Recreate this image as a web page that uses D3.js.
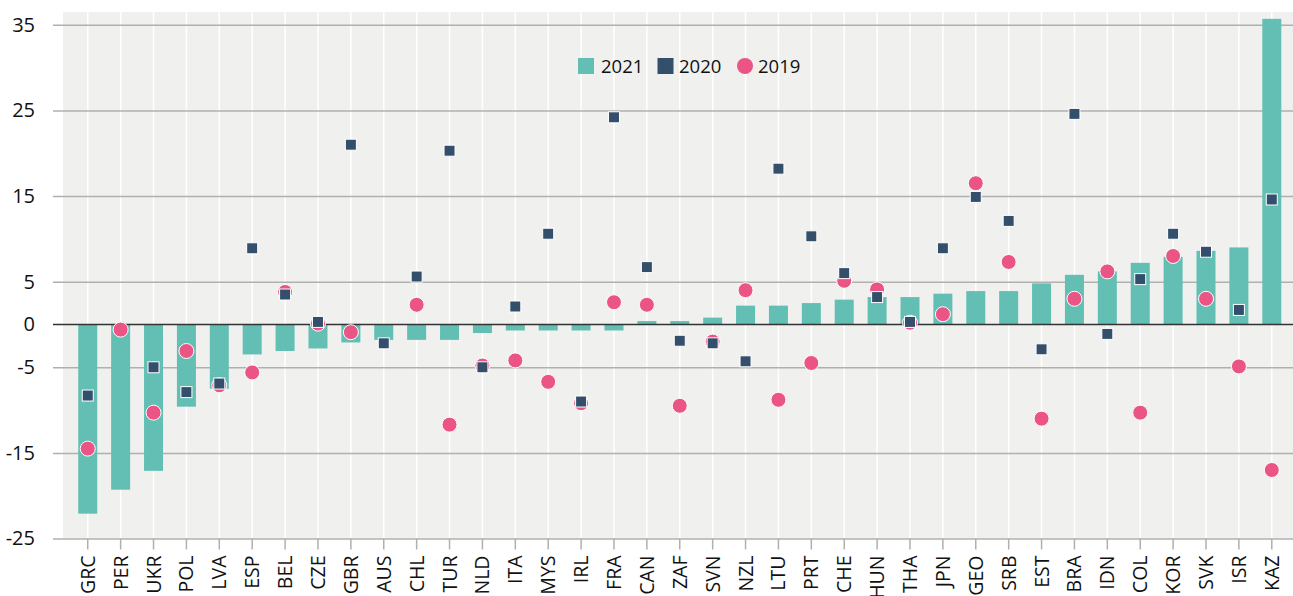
<!DOCTYPE html>
<html>
<head>
<meta charset="utf-8">
<script src="https://cdn.jsdelivr.net/npm/d3@7"></script>
<style>
  body { margin: 0; background: #fff; font-family: "Open Sans", sans-serif; }
</style>
</head>
<body>
<div id="container"></div>
<script>
// countries, sorted by 2021 value
let countries = ["GRC","PER","UKR","POL","LVA","ESP","BEL","CZE","GBR","AUS","CHL","TUR","NLD","ITA","MYS","IRL","FRA","CAN","ZAF","SVN","NZL","LTU","PRT","CHE","HUN","THA","JPN","GEO","SRB","EST","BRA","IDN","COL","KOR","SVK","ISR","KAZ"];
let v2021 = [-22.1,-19.3,-17.1,-9.6,-7.5,-3.5,-3.1,-2.8,-2.1,-1.8,-1.8,-1.8,-1.0,-0.7,-0.7,-0.7,-0.7,0.4,0.4,0.8,2.2,2.2,2.5,2.9,3.2,3.2,3.6,3.9,3.9,4.8,5.8,6.2,7.2,7.9,8.6,9.0,35.7];
let v2020 = [-8.3,null,-5.0,-7.9,-6.9,8.9,3.5,0.3,21.0,-2.2,5.6,20.3,-5.0,2.1,10.6,-9.0,24.2,6.7,-1.9,-2.2,-4.3,18.2,10.3,6.0,3.2,0.3,8.9,14.9,12.1,-2.9,24.6,-1.1,5.3,10.6,8.5,1.7,14.6];
let v2019 = [-14.5,-0.6,-10.3,-3.1,-7.1,-5.6,3.8,0.1,-0.9,null,2.3,-11.7,-4.8,-4.2,-6.7,-9.2,2.6,2.3,-9.5,-2.0,4.0,-8.8,-4.5,5.1,4.1,0.2,1.2,16.5,7.3,-11.0,3.0,6.2,-10.3,8.0,3.0,-4.9,-17.0];
let yTicks = [35, 25, 15, 5, 0, -5, -15, -25];

let width = 1293, height = 596;
let mLeft = 63, mRight = 1293, mTop = 12, mBottom = 538.5;

let col2021 = "#63bfb4", col2020 = "#344f6b", col2019 = "#ea5586";

let svg = d3.select("#container").append("svg")
  .attr("width", width).attr("height", height);

let x = d3.scaleBand().domain(countries).range([71.3, 71.3 + 37 * 32.89]);
let y = d3.scaleLinear().domain([-25, 36.5]).range([mBottom, mTop]);
let cx = (d) => x(d) + x.bandwidth() / 2;

// 背景
svg.append("rect")
  .attr("x", mLeft).attr("y", mTop)
  .attr("width", mRight - mLeft).attr("height", mBottom - mTop)
  .attr("fill", "#f0f0ee");

// 竖直网格
svg.append("g").selectAll("line").data(countries).join("line")
  .attr("x1", cx).attr("x2", cx)
  .attr("y1", mTop).attr("y2", mBottom)
  .attr("stroke", "#ffffff").attr("stroke-width", 1.5);

// y 轴
let yAxis = d3.axisLeft(y).tickValues(yTicks).tickSize(mRight - 53)
  .tickFormat((d) => String(d));
let gy = svg.append("g").attr("transform", `translate(${mRight},0)`).call(yAxis);
gy.select(".domain").remove();
gy.selectAll(".tick line")
  .attr("stroke", "#b0b0b0")
  .attr("stroke-width", 1.5);
gy.selectAll(".tick text")
  .attr("x", -(mRight - 35))
  .attr("font-family", "Open Sans, sans-serif")
  .attr("font-size", 20).attr("fill", "#111");
// zero line drawn above bars
gy.selectAll(".tick").filter((d) => d === 0).select("line").remove();

// bars 2021
let bw = 19;
svg.append("g").selectAll("rect").data(countries).join("rect")
  .attr("x", (d) => cx(d) - bw / 2)
  .attr("width", bw)
  .attr("y", (d, i) => y(Math.max(0, v2021[i])))
  .attr("height", (d, i) => Math.abs(y(v2021[i]) - y(0)))
  .attr("fill", col2021);

// zero line
svg.append("line")
  .attr("x1", 53).attr("x2", mRight)
  .attr("y1", y(0)).attr("y2", y(0))
  .attr("stroke", "#333").attr("stroke-width", 1.3);

// x 轴
let xAxis = d3.axisBottom(x).tickSize(11);
let gx = svg.append("g").attr("transform", `translate(0,${mBottom})`).call(xAxis);
gx.select(".domain").remove();
gx.selectAll(".tick line").attr("stroke", "#b0b0b0").attr("stroke-width", 1.5);
gx.selectAll(".tick text")
  .attr("transform", "rotate(-90)")
  .attr("x", -17).attr("y", 0).attr("dy", "0.36em")
  .attr("text-anchor", "end")
  .attr("font-family", "Open Sans, sans-serif")
  .attr("font-size", 19.5).attr("fill", "#111");

// 2019 circles
let pts2019 = countries.map((c, i) => ({ c: c, v: v2019[i] })).filter((d) => d.v != null);
svg.append("g").selectAll("circle").data(pts2019).join("circle")
  .attr("cx", (d) => cx(d.c)).attr("cy", (d) => y(d.v))
  .attr("r", 7.5)
  .attr("fill", col2019).attr("stroke", "#fff").attr("stroke-width", 1);

// 2020 squares
let s = 11;
let pts2020 = countries.map((c, i) => ({ c: c, v: v2020[i] })).filter((d) => d.v != null);
svg.append("g").selectAll("rect").data(pts2020).join("rect")
  .attr("x", (d) => cx(d.c) - s / 2).attr("y", (d) => y(d.v) - s / 2)
  .attr("width", s).attr("height", s)
  .attr("fill", col2020).attr("stroke", "#fff").attr("stroke-width", 1);

// 图例
let legend = svg.append("g").attr("font-family", "Open Sans, sans-serif").attr("font-size", 18.5).attr("fill", "#111");
legend.append("rect").attr("x", 578).attr("y", 58).attr("width", 16).attr("height", 16).attr("fill", col2021);
legend.append("text").attr("x", 601).attr("y", 73).text("2021");
legend.append("rect").attr("x", 657.5).attr("y", 58).attr("width", 16).attr("height", 16).attr("fill", col2020);
legend.append("text").attr("x", 679).attr("y", 73).text("2020");
legend.append("circle").attr("cx", 745).attr("cy", 66).attr("r", 8).attr("fill", col2019);
legend.append("text").attr("x", 758).attr("y", 73).text("2019");
</script>
</body>
</html>
